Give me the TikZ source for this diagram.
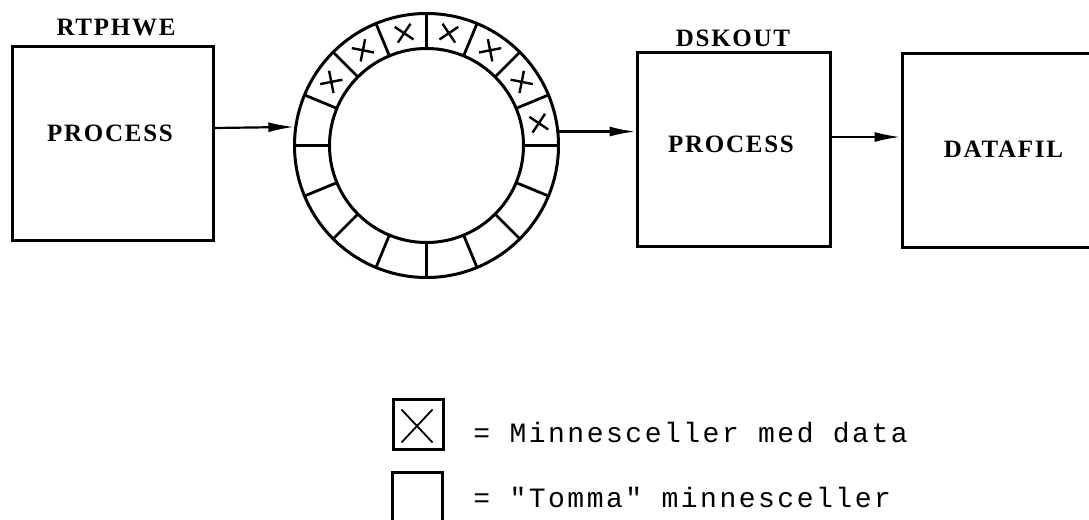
\documentclass[tikz,border=0pt]{standalone}
\usepackage{fontspec}
\setmainfont{Liberation Serif}
\newfontfamily\labelfont[LetterSpace=7]{Liberation Serif}
\newfontfamily\typefont[LetterSpace=9]{Liberation Mono}
\usetikzlibrary{arrows.meta, positioning, calc}

\begin{document}
\begin{tikzpicture}[x=0.5pt, y=0.5pt,
    procbox/.style={draw, line width=1.5pt, inner sep=0pt, minimum width=#1, minimum height=97pt},
    tag/.style={font=\labelfont\bfseries\fontsize{12.5}{14}\selectfont, inner sep=0pt},
    ring/.style={circle, draw, line width=1.5pt, inner sep=0pt, minimum size=#1},
    flow/.style={-{Latex[length=13pt,width=5pt]}, line width=1.1pt},
    cross/.style={line width=1.2pt},
    legend/.style={font=\typefont\fontsize{14}{16}\selectfont, anchor=base west, inner sep=0pt}
]
\clip (0,0) rectangle (1089,520);
\node[procbox=100.5pt] (lproc) at (112.5,376) {};
\node[tag] (lname) at (116,492) {RTPHWE};
\node[tag] (ltext) at (110,387) {PROCESS};

\node[ring=132pt] (buffer) at (426.5,374.5) {};
\node[ring=97pt] (hub) at (buffer.center) {};
\foreach \a in {0,22.5,...,337.5}
    \draw[line width=1.4pt] ($(buffer.center)+(\a:97)$) -- ($(buffer.center)+(\a:132)$);
\foreach \a in {11.25,33.75,56.25,78.75,101.25,123.75,146.25}
    \draw[cross, shift={($(buffer.center)+(\a:114.5)$)}, rotate=\a-90] (-8,-8) -- (8,8) (-8,8) -- (8,-8);

\node[procbox=96.5pt] (dproc) at (733.5,370) {};
\node[tag] (dname) at (733,481.5) {DSKOUT};
\node[tag] (dtext) at (731,375.5) {PROCESS};

\node[procbox=104pt] (dfile) at (1006,369.5) {};
\node[tag] (ftext) at (1003.5,371) {DATAFIL};

\draw[flow] ($(lproc.east)+(0,16)$) -- (buffer.172);
\draw[flow] (buffer.6) -- (buffer.6 -| dproc.west);
\draw[flow] ($(dproc.east)+(0,13)$) -- ($(dfile.west)+(0,13.5)$);

\node[draw, line width=1.5pt, minimum size=25pt, inner sep=0pt] (fullcell) at (418,95) {};
\draw[line width=0.9pt] ($(fullcell.south west)+(10,9)$) -- ($(fullcell.north east)+(-12,-11)$)
    ($(fullcell.north west)+(10,-11)$) -- ($(fullcell.south east)+(-12,9)$);
\node[draw, line width=1.5pt, minimum size=25pt, inner sep=0pt] (emptycell) at (417,22) {};
\node[legend] (fulltext) at (473,77) {= Minnesceller med data};
\node[legend] (emptytext) at (473,12) {= "Tomma" minnesceller};
\end{tikzpicture}
\end{document}
